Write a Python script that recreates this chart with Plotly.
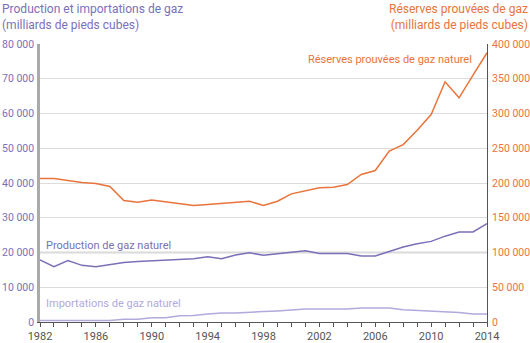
import plotly.graph_objects as go

years = list(range(1982, 2015))

reserves = [206500, 206500, 203600, 200700, 199300, 195000, 174700, 172300, 175700, 173300,
            170400, 167500, 169000, 170400, 171800, 173700, 167500, 173700, 184400, 188200,
            193100, 194000, 197800, 212300, 218000, 245900, 255200, 275800, 298500, 345600,
            322500, 355200, 387400]

production = [17900, 15900, 17700, 16300, 15900, 16500, 17100, 17400, 17600, 17600,
              17900, 18200, 18800, 18200, 19300, 19900, 19200, 19600, 20000, 20500,
              19700, 19700, 19700, 19000, 19000, 20300, 21600, 22500, 23200, 24700,
              25900, 25900, 28300]

imports = [400, 400, 400, 400, 400, 400, 800, 800, 1250, 1250,
           1800, 1900, 2300, 2600, 2600, 2700, 3000, 3200, 3500, 3750,
           3750, 3750, 3750, 4050, 4150, 4050, 3500, 3300, 3300, 3100,
           2700, 2300, 2300]

left_ticks = list(range(0, 80001, 10000))
right_ticks = list(range(0, 400001, 50000))
x_ticks = list(range(1982, 2015, 4))

PURPLE = "#7a70b8"
LIGHT_PURPLE = "#b0aade"
ORANGE = "#e8743b"
AXIS_GRAY = "#555555"
FONT = "Roboto"
TICK_SIZE = 10.5

fig = go.Figure()
fig.add_trace(go.Scatter(x=years, y=imports, mode="lines", line=dict(color=LIGHT_PURPLE, width=1.5),
                         yaxis="y", hoverinfo="skip"))
fig.add_trace(go.Scatter(x=years, y=production, mode="lines", line=dict(color=PURPLE, width=1.5),
                         yaxis="y", hoverinfo="skip"))
fig.add_trace(go.Scatter(x=years, y=reserves, mode="lines", line=dict(color=ORANGE, width=1.5),
                         yaxis="y2", hoverinfo="skip"))

# highlighted 20 000 gridline
fig.add_shape(type="line", xref="paper", x0=0, x1=1, yref="y", y0=20000, y1=20000,
              line=dict(color="#ebebeb", width=3), layer="below")

fig.update_layout(
    width=530, height=343,
    margin=dict(l=40, r=43, t=44, b=21),
    paper_bgcolor="white", plot_bgcolor="white",
    showlegend=False,
    separators=". ",
    font=dict(family=FONT, size=TICK_SIZE, color=AXIS_GRAY),
    xaxis=dict(range=[1982, 2014], tickvals=x_ticks, ticks="outside", ticklen=4,
               tickcolor=AXIS_GRAY, showline=True, linecolor=AXIS_GRAY, linewidth=1,
               showgrid=False, zeroline=False, tickfont=dict(color=AXIS_GRAY, size=11),
               automargin=False,
               minor=dict(dtick=1, tick0=1982, ticks="outside", ticklen=4, tickcolor=AXIS_GRAY)),
    yaxis=dict(range=[0, 80000], tickvals=left_ticks, tickformat=",d", showgrid=True,
               gridcolor="#dcdcdc", gridwidth=1, zeroline=False, showline=True,
               linecolor="#aaaaaa", linewidth=2.5, tickfont=dict(color=PURPLE, size=TICK_SIZE),
               ticks="", ticklabelstandoff=1, automargin=False),
    yaxis2=dict(range=[0, 400000], tickvals=right_ticks, tickformat=",d", overlaying="y",
                side="right", showgrid=False, zeroline=False, showline=True,
                linecolor=AXIS_GRAY, linewidth=1, tickfont=dict(color=ORANGE, size=TICK_SIZE),
                ticks="", ticklabelstandoff=2, automargin=False),
    annotations=[
        dict(text="Production et importations de gaz<br>(milliards de pieds cubes)",
             xref="paper", yref="paper", x=-40/447, y=1 + 44/278, xanchor="left", yanchor="top",
             align="left", showarrow=False, font=dict(color=PURPLE, size=12, family=FONT)),
        dict(text="Réserves prouvées de gaz<br>(milliards de pieds cubes)",
             xref="paper", yref="paper", x=1 + 43/447, y=1 + 44/278, xanchor="right", yanchor="top",
             align="right", showarrow=False, font=dict(color=ORANGE, size=12, family=FONT)),
        dict(text="Réserves prouvées de gaz naturel", xref="x", yref="y2", x=2013.1, y=378000,
             xanchor="right", yanchor="middle", showarrow=False,
             font=dict(color=ORANGE, size=11, family=FONT)),
        dict(text="Production de gaz naturel", xref="x", yref="y", x=1982.3, y=22000,
             xanchor="left", yanchor="middle", showarrow=False,
             font=dict(color=PURPLE, size=11, family=FONT)),
        dict(text="Importations de gaz naturel", xref="x", yref="y", x=1982.3, y=5400,
             xanchor="left", yanchor="middle", showarrow=False,
             font=dict(color=LIGHT_PURPLE, size=11, family=FONT)),
    ],
)

fig.write_html("out.html")
